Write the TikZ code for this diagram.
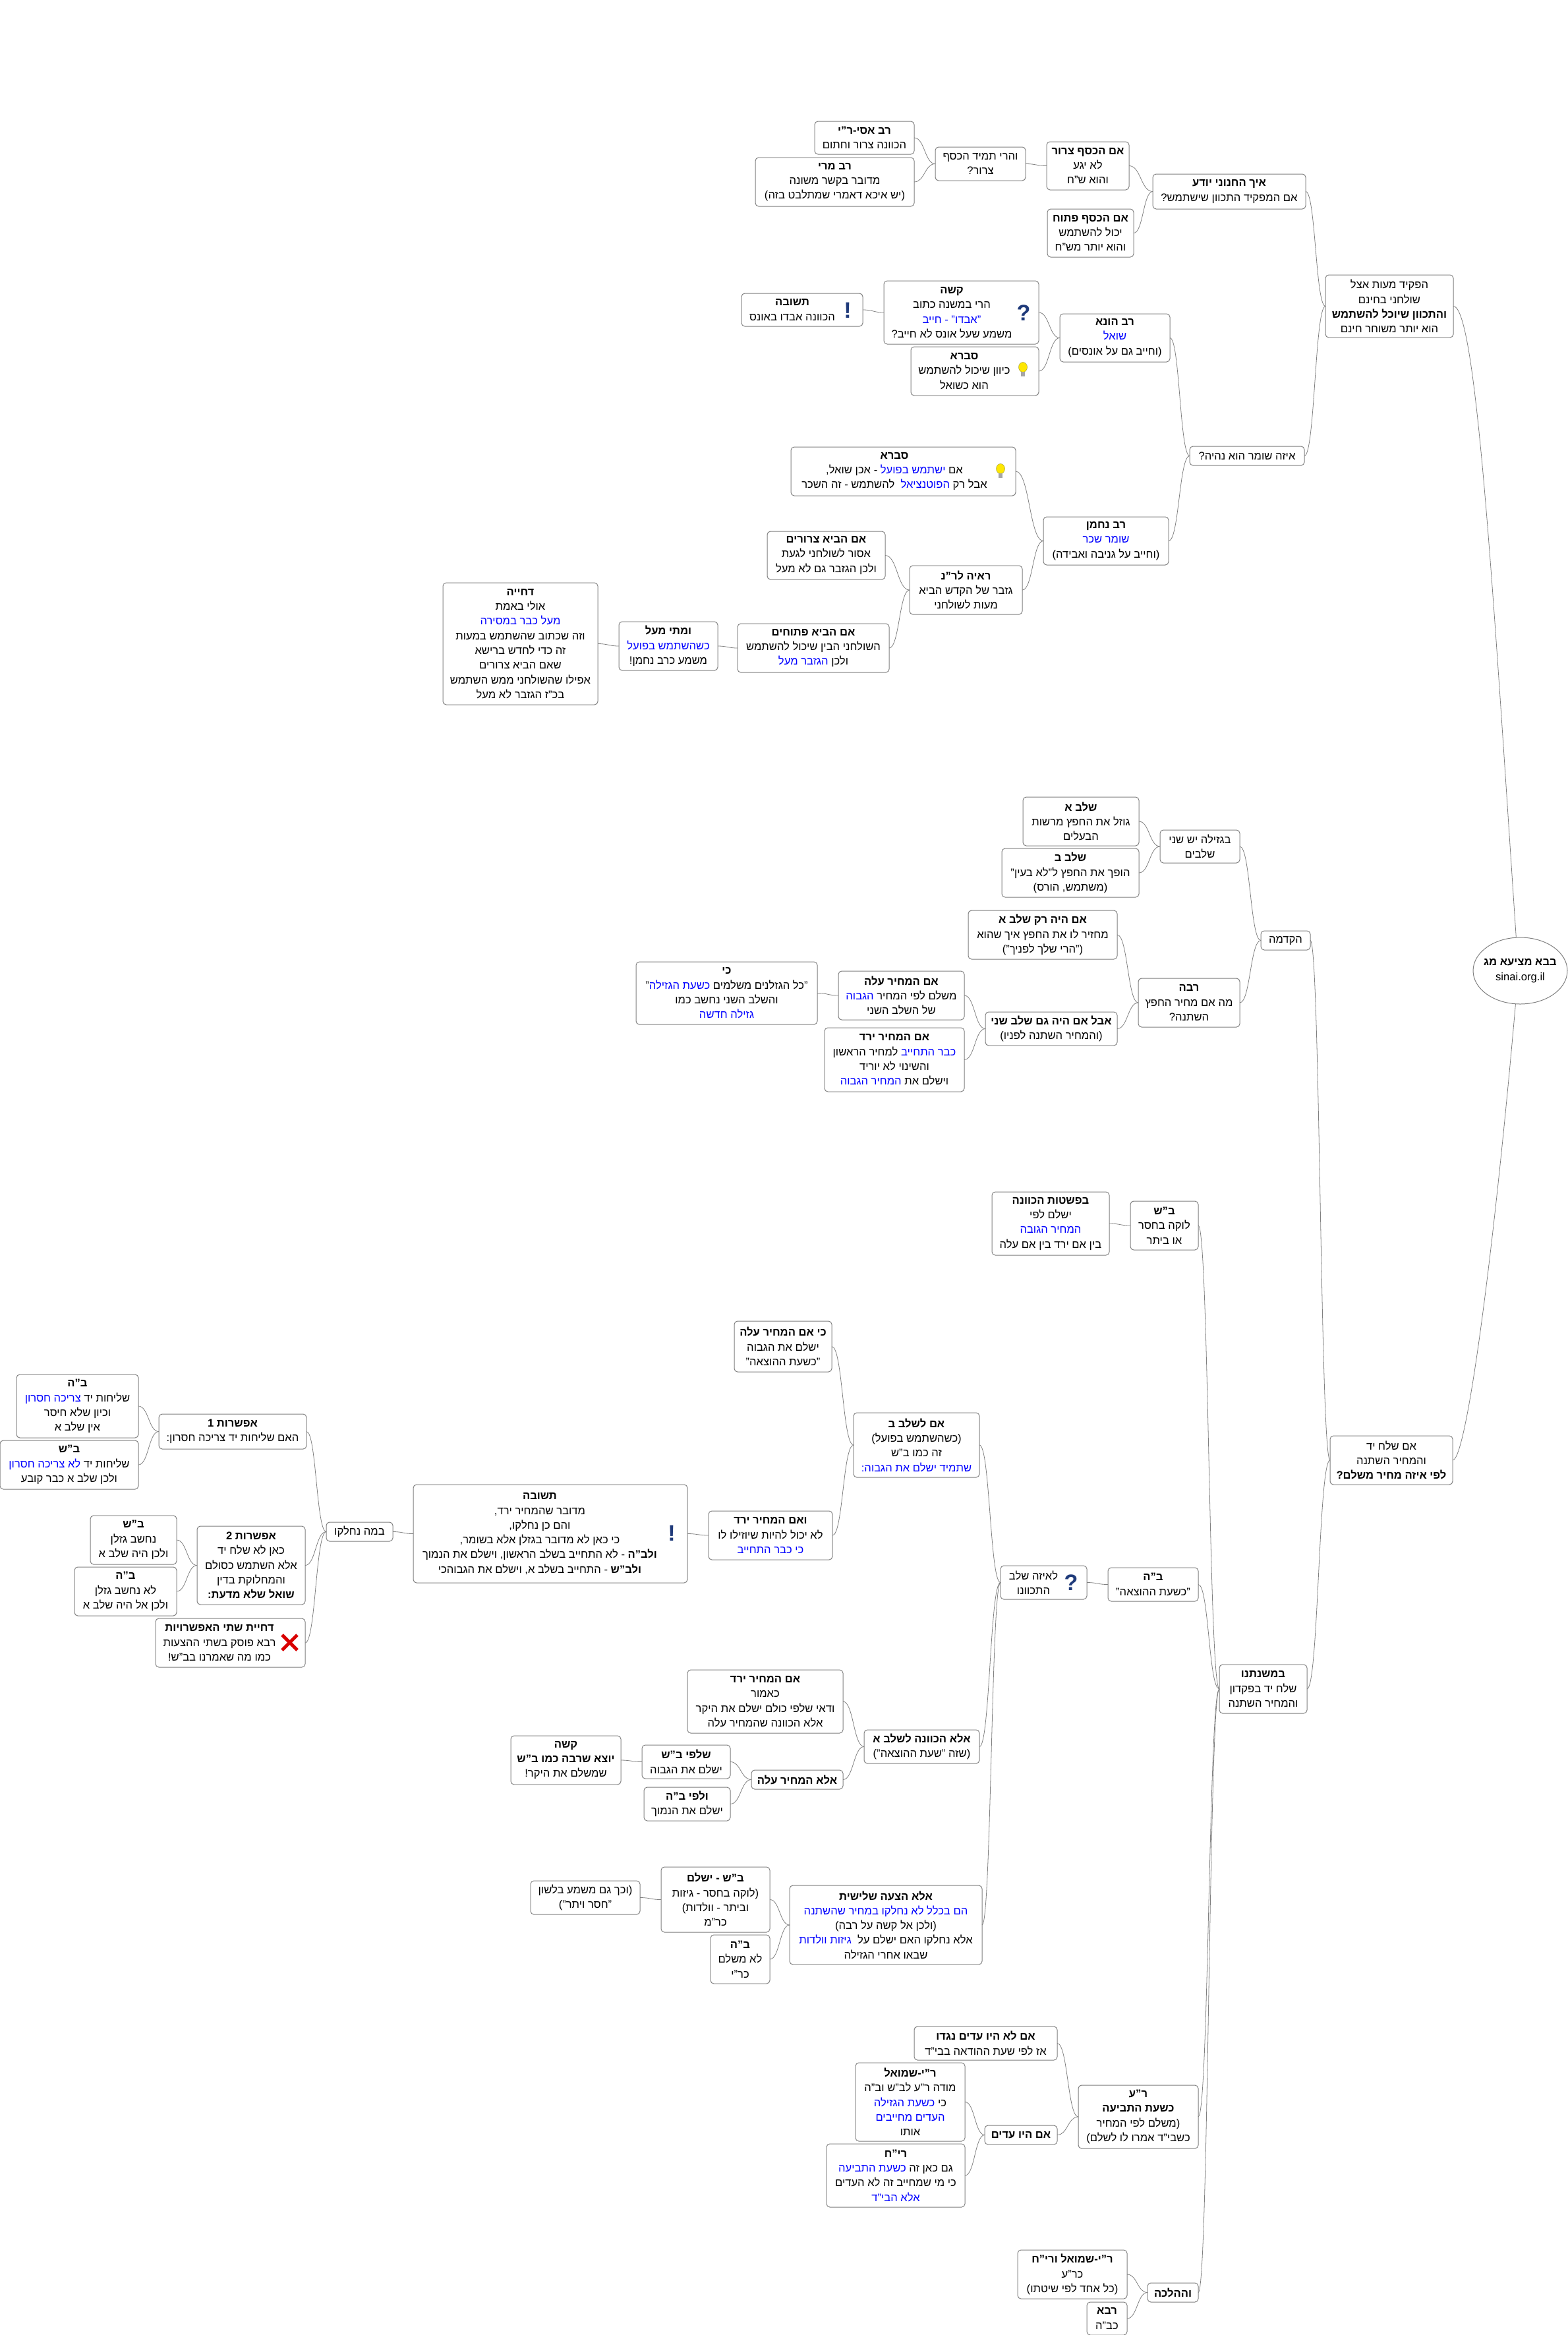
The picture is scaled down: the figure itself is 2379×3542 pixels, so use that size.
\documentclass[tikz,border=0pt]{standalone}
\usepackage{fontspec}
\usetikzlibrary{calc,shapes.geometric}
\setmainfont[Script=Hebrew]{Liberation Sans}
\newfontfamily\latinf{Liberation Sans}
\TeXXeTstate=1
\newdimen\ik
\definecolor{edgegray}{HTML}{808080}
\definecolor{icblue}{HTML}{1F3A7A}
\newcommand{\hl}[1]{\hbox{\beginR #1\endR\kern\ik}}
\newcommand{\ml}[1]{\hbox{#1\kern\ik}}
\newcommand{\rr}[1]{\beginR #1\endR}
\newcommand{\bl}[1]{\textcolor{blue}{\beginR #1\endR}}
\newcommand{\mn}[7][0pt]{\ik=#1\relax\node[mm,minimum width={#5pt-#3pt},minimum height={#6pt-#4pt}] (#2) at ({(#3+#5)/2},{(#4+#6)/2}) {#7};}
\newcommand{\cn}[2]{\draw[cnline] let \p1=(#2.east),\p2=(#1.west),\n1={0.5*(\x2-\x1)} in (\p1) .. controls (\x1+\n1,\y1) and (\x2-\n1,\y2) .. (\p2);}
\newcommand{\bulb}[2]{\begin{scope}[shift={(#1,#2)}]
\fill[yellow!90!orange,draw=yellow!60!black,line width=.5pt] (0,-4) ellipse (6.5 and 7.5);
\fill[gray!70] (-3,3) rectangle (3,10);
\end{scope}}
\tikzset{
 mm/.style={draw=edgegray,line width=1pt,rounded corners=5pt,fill=white,inner sep=0pt,outer sep=0pt,align=center,font=\fontsize{16.6}{22.3}\selectfont},
 cnline/.style={draw=edgegray,line width=.8pt},
 ic/.style={inner sep=0pt,text=icblue,font=\latinf\bfseries\fontsize{34}{34}\selectfont}
}
\begin{document}
\begin{tikzpicture}[x=1pt,y=-1pt]
\useasboundingbox (0,0) rectangle (2379,3542);
% root
\ik=0pt
\node[mm,ellipse,minimum width=143pt,minimum height=101pt] (root) at (2306.5,1472.5) {\makebox[80pt][c]{\hl{\textbf{בבא מציעא מג}}}\\\makebox[80pt][c]{\latinf sinai.org.il}};
% upper branch
\mn{rasi}{1236}{184}{1387}{234}{\hl{\textbf{רב אסי-ר"י}}\\\hl{הכוונה צרור וחתום}}
\mn{rmari}{1146}{239}{1387}{313}{\hl{\textbf{רב מרי}}\\\hl{מדובר בקשר משונה}\\\hl{(יש איכא דאמרי שמתלבט בזה)}}
\mn{vaharei}{1419}{223}{1556}{274}{\hl{והרי תמיד הכסף}\\\hl{צרור?}}
\mn{tsarur}{1588}{215}{1713}{288}{\hl{\textbf{אם הכסף צרור}}\\\hl{לא יגע}\\\hl{והוא ש"ח}}
\mn{patuach}{1589}{317}{1720}{390}{\hl{\textbf{אם הכסף פתוח}}\\\hl{יכול להשתמש}\\\hl{והוא יותר מש"ח}}
\mn{chenvani}{1749}{264}{1981}{317}{\hl{\textbf{איך החנוני יודע}}\\\hl{אם המפקיד התכוון שישתמש?}}
\mn{hifkid}{2011}{417}{2205}{512}{\hl{הפקיד מעות אצל}\\\hl{שולחני בחינם}\\\hl{\textbf{והתכוון שיוכל להשתמש}}\\\hl{הוא יותר משוחר חינם}}
\mn[29pt]{kashe}{1341}{426}{1576}{522}{\hl{\textbf{קשה}}\\\hl{הרי במשנה כתוב}\\\ml{\bl{"אבדו" - חייב}}\\\hl{משמע שעל אונס לא חייב?}}
\mn[30pt]{tshuva}{1125}{445}{1309}{495}{\hl{\textbf{תשובה}}\\\hl{הכוונה אבדו באונס}}
\mn[32pt]{svara}{1382}{526}{1576}{600}{\hl{\textbf{סברא}}\\\hl{כיוון שיכול להשתמש}\\\hl{הוא כשואל}}
\mn{huna}{1608}{476}{1775}{549}{\hl{\textbf{רב הונא}}\\\ml{\bl{שואל}}\\\hl{(וחייב גם על אונסים)}}
\mn[27pt]{svaraB}{1200}{678}{1541}{752}{\hl{\textbf{סברא}}\\\ml{\rr{- אכן שואל,}\ \bl{ישתמש בפועל}\ \rr{אם}}\\\ml{\rr{להשתמש - זה השכר}\ \ \bl{הפוטנציאל}\ \rr{אבל רק}}}
\mn{nachman}{1583}{784}{1773}{857}{\hl{\textbf{רב נחמן}}\\\ml{\bl{שומר שכר}}\\\hl{(וחייב על גניבה ואבידה)}}
\mn{eize}{1805}{677}{1979}{706}{\hl{איזה שומר הוא נהיה?}}
\mn{tsrurim}{1164}{806}{1343}{879}{\hl{\textbf{אם הביא צרורים}}\\\hl{אסור לשולחני לגעת}\\\hl{ולכן הגזבר גם לא מעל}}
\mn{raaya}{1380}{858}{1551}{932}{\hl{\textbf{ראיה לר"נ}}\\\hl{גזבר של הקדש הביא}\\\hl{מעות לשולחני}}
\mn{ptuchim}{1119}{946}{1349}{1020}{\hl{\textbf{אם הביא פתוחים}}\\\hl{השולחני הבין שיכול להשתמש}\\\ml{\bl{הגזבר מעל}\ \rr{ולכן}}}
\mn{matai}{939}{943}{1089}{1017}{\hl{\textbf{ומתי מעל}}\\\ml{\bl{כשהשתמש בפועל}}\\\hl{משמע כרב נחמן!}}
\mn{dchiya}{672}{884}{907}{1069}{\hl{\textbf{דחייה}}\\\hl{אולי באמת}\\\ml{\bl{מעל כבר במסירה}}\\\hl{וזה שכתוב שהשתמש במעות}\\\hl{זה כדי לחדש ברישא}\\\hl{שאם הביא צרורים}\\\hl{אפילו שהשולחני ממש השתמש}\\\hl{בכ"ז הגזבר לא מעל}}
% hakdama
\mn{shlavA}{1552}{1209}{1728}{1283}{\hl{\textbf{שלב א}}\\\hl{גוזל את החפץ מרשות}\\\hl{הבעלים}}
\mn{shlavB}{1520}{1287}{1728}{1361}{\hl{\textbf{שלב ב}}\\\hl{הופך את החפץ ל"לא בעין"}\\\hl{(משתמש, הורס)}}
\mn{bgzela}{1760}{1259}{1881}{1309}{\hl{בגזילה יש שני}\\\hl{שלבים}}
\mn{hakdama}{1913}{1412}{1988}{1441}{\hl{הקדמה}}
\mn{rakA}{1469}{1381}{1695}{1455}{\hl{\textbf{אם היה רק שלב א}}\\\hl{מחזיר לו את החפץ איך שהוא}\\\hl{("הרי שלך לפניך")}}
\mn{rabba}{1727}{1484}{1881}{1558}{\hl{\textbf{רבה}}\\\hl{מה אם מחיר החפץ}\\\hl{השתנה?}}
\mn{aval}{1495}{1535}{1695}{1586}{\hl{\textbf{אבל אם היה גם שלב שני}}\\\hl{(והמחיר השתנה לפניו)}}
\mn{ki}{965}{1459}{1240}{1554}{\hl{\textbf{כי}}\\\ml{\rr{"}\bl{כשעת הגזילה}\ \rr{"כל הגזלנים משלמים}}\\\hl{והשלב השני נחשב כמו}\\\ml{\bl{גזילה חדשה}}}
\mn{ala}{1272}{1473}{1463}{1547}{\hl{\textbf{אם המחיר עלה}}\\\ml{\bl{הגבוה}\ \rr{משלם לפי המחיר}}\\\hl{של השלב השני}}
\mn{yarad}{1251}{1559}{1463}{1656}{\hl{\textbf{אם המחיר ירד}}\\\ml{\rr{למחיר הראשון}\ \bl{כבר התחייב}}\\\hl{והשינוי לא יוריד}\\\ml{\bl{המחיר הגבוה}\ \rr{וישלם את}}}
% mishna
\mn{shalach}{2018}{2178}{2204}{2252}{\hl{אם שלח יד}\\\hl{והמחיר השתנה}\\\hl{\textbf{לפי איזה מחיר משלם?}}}
\mn{mishna}{1850}{2525}{1983}{2599}{\hl{\textbf{במשנתנו}}\\\hl{שלח יד בפקדון}\\\hl{והמחיר השתנה}}
\mn{bs}{1715}{1822}{1818}{1896}{\hl{\textbf{ב"ש}}\\\hl{לוקה בחסר}\\\hl{או ביתר}}
\mn{pshat}{1505}{1808}{1683}{1904}{\hl{\textbf{בפשטות הכוונה}}\\\hl{ישלם לפי}\\\ml{\bl{המחיר הגובה}}\\\hl{בין אם ירד בין אם עלה}}
\mn{bh}{1681}{2378}{1818}{2429}{\hl{\textbf{ב"ה}}\\\hl{"כשעת ההוצאה"}}
\mn[31pt]{leize}{1518}{2375}{1649}{2426}{\hl{לאיזה שלב}\\\hl{התכוונו}}
\mn{shlavBB}{1295}{2143}{1486}{2241}{\hl{\textbf{אם לשלב ב}}\\\hl{(כשהשתמש בפועל)}\\\hl{זה כמו ב"ש}\\\ml{\bl{שתמיד ישלם את הגבוה:}}}
\mn{kiala}{1114}{2004}{1262}{2081}{\hl{\textbf{כי אם המחיר עלה}}\\\hl{ישלם את הגבוה}\\\hl{"כשעת ההוצאה"}}
\mn{vyarad}{1075}{2292}{1263}{2366}{\hl{\textbf{ואם המחיר ירד}}\\\hl{לא יכול להיות שיוזילו לו}\\\ml{\bl{כי כבר התחייב}}}
\mn[32pt]{bigT}{627}{2252}{1043}{2401}{\hl{\textbf{תשובה}}\\\hl{מדובר שהמחיר ירד,}\\\hl{והם כן נחלקו,}\\\hl{כי כאן לא מדובר בגזלן אלא בשומר,}\\\hl{\textbf{ולב"ה} - לא התחייב בשלב הראשון, וישלם את הנמוך}\\\hl{\textbf{ולב"ש} - התחייב בשלב א, וישלם את הגבוהכי}}
\mn{bamah}{495}{2309}{596}{2338}{\hl{במה נחלקו}}
\mn{efA}{241}{2145}{465}{2198}{\hl{\textbf{אפשרות 1}}\\\hl{האם שליחות יד צריכה חסרון:}}
\mn{bhA}{25}{2085}{210}{2181}{\hl{\textbf{ב"ה}}\\\ml{\bl{צריכה חסרון}\ \rr{שליחות יד}}\\\hl{וכיון שלא חיסר}\\\hl{אין שלב א}}
\mn{bsA}{0}{2185}{210}{2259}{\hl{\textbf{ב"ש}}\\\ml{\bl{לא צריכה חסרון}\ \rr{שליחות יד}}\\\hl{ולכן שלב א כבר קובע}}
\mn{efB}{299}{2315}{463}{2434}{\hl{\textbf{אפשרות 2}}\\\hl{כאן לא שלח יד}\\\hl{אלא השתמש כסולם}\\\hl{והמחלוקת בדין}\\\hl{\textbf{שואל  שלא מדעת:}}}
\mn{bsB}{137}{2299}{268}{2373}{\hl{\textbf{ב"ש}}\\\hl{נחשב גזלן}\\\hl{ולכן היה שלב א}}
\mn{bhB}{113}{2377}{268}{2451}{\hl{\textbf{ב"ה}}\\\hl{לא נחשב גזלן}\\\hl{ולכן אל היה שלב א}}
\mn[33pt]{dchiyat}{236}{2455}{463}{2529}{\hl{\textbf{דחיית שתי האפשרויות}}\\\hl{רבא פוסק בשתי ההצעות}\\\hl{כמו מה שאמרנו בב"ש!}}
\mn{kavana}{1311}{2624}{1486}{2675}{\hl{\textbf{אלא הכוונה לשלב א}}\\\hl{(שזה "שעת ההוצאה")}}
\mn{yaradB}{1043}{2533}{1279}{2629}{\hl{\textbf{אם המחיר ירד}}\\\hl{כאמור}\\\hl{ודאי שלפי כולם ישלם את היקר}\\\hl{אלא הכוונה שהמחיר עלה}}
\mn{elaala}{1140}{2685}{1279}{2714}{\hl{\textbf{אלא המחיר עלה}}}
\mn{shelifi}{974}{2647}{1108}{2698}{\hl{\textbf{שלפי ב"ש}}\\\hl{ישלם את הגבוה}}
\mn{velifi}{977}{2711}{1108}{2762}{\hl{\textbf{ולפי ב"ה}}\\\hl{ישלם את הנמוך}}
\mn{kasheB}{775}{2633}{942}{2707}{\hl{\textbf{קשה}}\\\hl{\textbf{יוצא שרבה כמו ב"ש}}\\\hl{שמשלם את היקר!}}
\mn{haatsaa}{1198}{2860}{1490}{2980}{\hl{\textbf{אלא הצעה שלישית}}\\\ml{\bl{הם בכלל לא נחלקו במחיר שהשתנה}}\\\hl{(ולכן אל קשה על רבה)}\\\ml{\bl{גיזות וולדות}\ \ \rr{אלא נחלקו האם ישלם על}}\\\hl{שבאו אחרי הגזילה}}
\mn{bsC}{1003}{2832}{1168}{2931}{\hl{\textbf{ב"ש - ישלם}}\\\hl{(לוקה בחסר -  גיזות}\\\hl{וביתר - וולדות)}\\\hl{כר"מ}}
\mn{bhC}{1078}{2935}{1168}{3009}{\hl{\textbf{ב"ה}}\\\hl{לא משלם}\\\hl{כר"י}}
\mn{vechach}{805}{2853}{971}{2904}{\hl{(וכך גם משמע בלשון}\\\hl{"חסר ויתר")}}
\mn{ra}{1636}{3163}{1818}{3259}{\hl{\textbf{ר"ע}}\\\hl{\textbf{כשעת התביעה}}\\\hl{(משלם לפי המחיר}\\\hl{כשבי"ד אמרו לו לשלם)}}
\mn{loedim}{1387}{3074}{1604}{3125}{\hl{\textbf{אם לא היו עדים נגדו}}\\\hl{אז לפי שעת ההודאה  בבי"ד}}
\mn{edim}{1494}{3224}{1604}{3253}{\hl{\textbf{אם היו עדים}}}
\mn{ris}{1298}{3129}{1464}{3248}{\hl{\textbf{ר"י-שמואל}}\\\hl{מודה ר"ע לב"ש וב"ה}\\\ml{\bl{כשעת הגזילה}\ \rr{כי}}\\\ml{\bl{העדים מחייבים}}\\\hl{אותו}}
\mn{rich}{1254}{3252}{1464}{3348}{\hl{\textbf{רי"ח}}\\\ml{\bl{כשעת התביעה}\ \rr{גם כאן זה}}\\\hl{כי מי שמחייב זה לא העדים}\\\ml{\bl{אלא הבי"ד}}}
\mn{veh}{1741}{3463}{1818}{3492}{\hl{\textbf{וההלכה}}}
\mn{risr}{1544}{3413}{1710}{3487}{\hl{\textbf{ר"י-שמואל ורי"ח}}\\\hl{כר"ע}\\\hl{(כל אחד לפי שיטתו)}}
\mn{rava}{1649}{3492}{1710}{3542}{\hl{\textbf{רבא}}\\\hl{כב"ה}}
% connectors
\draw[cnline] (hifkid.east) .. controls +(35,0) and +(-35,-522) .. (root.97);
\draw[cnline] (shalach.east) .. controls +(21,0) and +(-33,377) .. (root.262);
\cn{hifkid}{chenvani}\cn{hifkid}{eize}
\cn{chenvani}{tsarur}\cn{chenvani}{patuach}
\cn{tsarur}{vaharei}\cn{vaharei}{rasi}\cn{vaharei}{rmari}
\cn{eize}{huna}\cn{eize}{nachman}
\cn{huna}{kashe}\cn{huna}{svara}\cn{kashe}{tshuva}
\cn{nachman}{svaraB}\cn{nachman}{raaya}
\cn{raaya}{tsrurim}\cn{raaya}{ptuchim}\cn{ptuchim}{matai}\cn{matai}{dchiya}
\cn{shalach}{hakdama}\cn{shalach}{mishna}
\cn{hakdama}{bgzela}\cn{hakdama}{rabba}
\cn{bgzela}{shlavA}\cn{bgzela}{shlavB}
\cn{rabba}{rakA}\cn{rabba}{aval}
\cn{aval}{ala}\cn{aval}{yarad}\cn{ala}{ki}
\cn{mishna}{bs}\cn{mishna}{bh}\cn{mishna}{ra}\cn{mishna}{veh}
\cn{bs}{pshat}\cn{bh}{leize}
\cn{leize}{shlavBB}\cn{leize}{kavana}\cn{leize}{haatsaa}
\cn{shlavBB}{kiala}\cn{shlavBB}{vyarad}\cn{vyarad}{bigT}\cn{bigT}{bamah}
\cn{bamah}{efA}\cn{bamah}{efB}\cn{bamah}{dchiyat}
\cn{efA}{bhA}\cn{efA}{bsA}\cn{efB}{bsB}\cn{efB}{bhB}
\cn{kavana}{yaradB}\cn{kavana}{elaala}
\cn{elaala}{shelifi}\cn{elaala}{velifi}\cn{shelifi}{kasheB}
\cn{haatsaa}{bsC}\cn{haatsaa}{bhC}\cn{bsC}{vechach}
\cn{ra}{loedim}\cn{ra}{edim}\cn{edim}{ris}\cn{edim}{rich}
\cn{veh}{risr}\cn{veh}{rava}
% icons
\node[ic] (qA) at (1553,475) {?};
\node[ic] (qB) at (1625,2401) {?};
\node[ic] (exA) at (1286,471) {!};
\node[ic] (exB) at (1019,2326) {!};
\bulb{1552}{561}
\bulb{1518}{715}
\draw[red!85!black,line width=5pt] (428,2480) -- (451,2503) (451,2480) -- (428,2503);
\end{tikzpicture}
\end{document}
